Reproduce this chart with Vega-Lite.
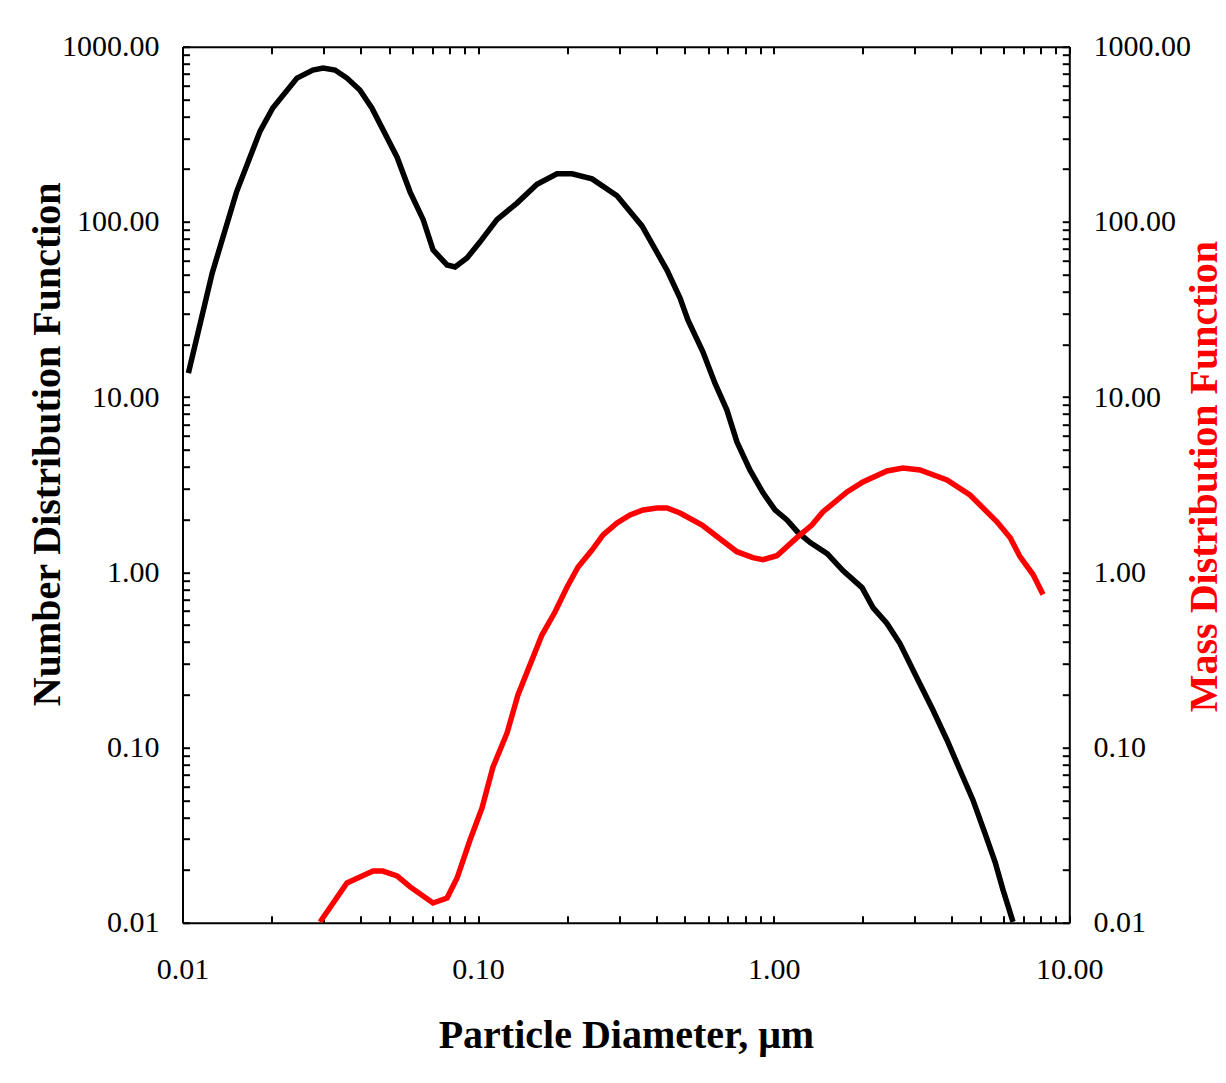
{
  "$schema": "https://vega.github.io/schema/vega-lite/v6.json",
  "autosize": {"type": "none"},
  "padding": {"left": 182.5, "top": 46.7, "right": 156.7, "bottom": 160.3},
  "width": 886.8,
  "height": 876,
  "background": "white",
  "config": {
    "view": {"stroke": null},
    "axis": {
      "grid": false,
      "domainColor": "black",
      "domainWidth": 2,
      "tickColor": "black",
      "tickWidth": 2,
      "tickSize": -7,
      "labelFont": "Liberation Serif",
      "labelFontSize": 30,
      "labelColor": "black",
      "labelFlush": false,
      "labelOverlap": false,
      "labelBound": false,
      "titleFont": "Liberation Serif",
      "titleFontSize": 40,
      "titleFontWeight": "bold",
      "titleColor": "black"
    }
  },
  "datasets": {
    "number": [
      {"d": 0.01047, "v": 13.7}, {"d": 0.0126, "v": 51}, {"d": 0.01525, "v": 149}, {"d": 0.0183, "v": 330},
      {"d": 0.0202, "v": 447}, {"d": 0.0244, "v": 662}, {"d": 0.0276, "v": 736}, {"d": 0.0299, "v": 756},
      {"d": 0.0328, "v": 736}, {"d": 0.036, "v": 662}, {"d": 0.0398, "v": 566}, {"d": 0.0437, "v": 447},
      {"d": 0.0532, "v": 234}, {"d": 0.0589, "v": 148}, {"d": 0.0652, "v": 103}, {"d": 0.0704, "v": 69.2},
      {"d": 0.0785, "v": 56.8}, {"d": 0.0836, "v": 55.3}, {"d": 0.0917, "v": 62.2}, {"d": 0.1014, "v": 76.7},
      {"d": 0.1158, "v": 103}, {"d": 0.1354, "v": 128}, {"d": 0.1582, "v": 164}, {"d": 0.1849, "v": 188},
      {"d": 0.2079, "v": 188}, {"d": 0.2429, "v": 176}, {"d": 0.2951, "v": 141}, {"d": 0.3584, "v": 94.9},
      {"d": 0.4354, "v": 53.1}, {"d": 0.4821, "v": 36.8}, {"d": 0.5129, "v": 27.5}, {"d": 0.5765, "v": 18.1},
      {"d": 0.6327, "v": 12.0}, {"d": 0.6945, "v": 8.43}, {"d": 0.7509, "v": 5.55}, {"d": 0.8308, "v": 3.84},
      {"d": 0.9203, "v": 2.84}, {"d": 1.01, "v": 2.27}, {"d": 1.109, "v": 1.99}, {"d": 1.204, "v": 1.7},
      {"d": 1.329, "v": 1.477}, {"d": 1.517, "v": 1.278}, {"d": 1.718, "v": 1.02}, {"d": 1.99, "v": 0.818},
      {"d": 2.167, "v": 0.629}, {"d": 2.416, "v": 0.51}, {"d": 2.674, "v": 0.392}, {"d": 3.076, "v": 0.243},
      {"d": 3.457, "v": 0.1637}, {"d": 3.856, "v": 0.1104}, {"d": 4.265, "v": 0.0744}, {"d": 4.72, "v": 0.0502},
      {"d": 5.18, "v": 0.0325}, {"d": 5.61, "v": 0.0222}, {"d": 5.97, "v": 0.01535}, {"d": 6.45, "v": 0.0101}
    ],
    "mass": [
      {"d": 0.0292, "v": 0.0101}, {"d": 0.036, "v": 0.01687}, {"d": 0.0441, "v": 0.01972}, {"d": 0.0476, "v": 0.01972},
      {"d": 0.0532, "v": 0.01849}, {"d": 0.0589, "v": 0.016}, {"d": 0.0704, "v": 0.01295}, {"d": 0.0785, "v": 0.01384},
      {"d": 0.0849, "v": 0.01799}, {"d": 0.0939, "v": 0.02965}, {"d": 0.1031, "v": 0.0452}, {"d": 0.1123, "v": 0.0774},
      {"d": 0.1253, "v": 0.1211}, {"d": 0.1364, "v": 0.1995}, {"d": 0.1644, "v": 0.4385}, {"d": 0.182, "v": 0.593},
      {"d": 0.2, "v": 0.824}, {"d": 0.2179, "v": 1.072}, {"d": 0.2428, "v": 1.34}, {"d": 0.2647, "v": 1.633},
      {"d": 0.2951, "v": 1.912}, {"d": 0.3266, "v": 2.124}, {"d": 0.3614, "v": 2.268}, {"d": 0.4029, "v": 2.33},
      {"d": 0.4354, "v": 2.33}, {"d": 0.4821, "v": 2.18}, {"d": 0.5723, "v": 1.862}, {"d": 0.633, "v": 1.633},
      {"d": 0.7507, "v": 1.311}, {"d": 0.85, "v": 1.212}, {"d": 0.9193, "v": 1.18}, {"d": 1.025, "v": 1.244},
      {"d": 1.198, "v": 1.576}, {"d": 1.346, "v": 1.862}, {"d": 1.466, "v": 2.21}, {"d": 1.77, "v": 2.873},
      {"d": 2.004, "v": 3.277}, {"d": 2.416, "v": 3.786}, {"d": 2.737, "v": 3.938}, {"d": 3.124, "v": 3.836},
      {"d": 3.856, "v": 3.364}, {"d": 4.613, "v": 2.762}, {"d": 5.69, "v": 1.941}, {"d": 6.31, "v": 1.576},
      {"d": 6.81, "v": 1.228}, {"d": 7.54, "v": 0.971}, {"d": 8.15, "v": 0.746}
    ]
  },
  "layer": [
    {
      "data": {"name": "number"},
      "mark": {"type": "line", "color": "black", "strokeWidth": 5.5, "clip": true},
      "encoding": {
        "x": {
          "field": "d", "type": "quantitative",
          "scale": {"type": "log", "domain": [0.01, 10], "nice": false},
          "axis": {
            "orient": "bottom",
            "values": [0.01,0.02,0.03,0.04,0.05,0.06,0.07,0.08,0.09,0.1,0.2,0.3,0.4,0.5,0.6,0.7,0.8,0.9,1,2,3,4,5,6,7,8,9,10],
            "labelExpr": "indexof([0.01,0.1,1,10], datum.value) >= 0 ? format(datum.value, '.2f') : ''",
            "labelAlign": "center",
            "labelBaseline": "alphabetic",
            "labelPadding": 62.3,
            "title": "Particle Diameter, μm",
            "titleX": 443.4,
            "titleY": 125,
            "titleAlign": "center",
            "titleBaseline": "alphabetic",
            "titleAngle": 0
          }
        },
        "y": {
          "field": "v", "type": "quantitative",
          "scale": {"type": "log", "domain": [0.01, 1000], "nice": false},
          "axis": {
            "orient": "left",
            "values": [0.01,0.02,0.03,0.04,0.05,0.06,0.07,0.08,0.09,0.1,0.2,0.3,0.4,0.5,0.6,0.7,0.8,0.9,1,2,3,4,5,6,7,8,9,10,20,30,40,50,60,70,80,90,100,200,300,400,500,600,700,800,900,1000],
            "labelExpr": "indexof([0.01,0.1,1,10,100,1000], datum.value) >= 0 ? format(datum.value, '.2f') : ''",
            "labelAlign": "right",
            "labelBaseline": "middle",
            "labelPadding": 30.5,
            "title": "Number Distribution Function",
            "titleAngle": 270,
            "titleX": -123.5,
            "titleY": 659,
            "titleAlign": "left",
            "titleBaseline": "alphabetic"
          }
        }
      }
    },
    {
      "data": {"name": "mass"},
      "mark": {"type": "line", "color": "#FF0000", "strokeWidth": 5.5, "clip": true},
      "encoding": {
        "x": {
          "field": "d", "type": "quantitative",
          "scale": {"type": "log", "domain": [0.01, 10], "nice": false},
          "axis": {
            "orient": "top",
            "values": [0.01,0.02,0.03,0.04,0.05,0.06,0.07,0.08,0.09,0.1,0.2,0.3,0.4,0.5,0.6,0.7,0.8,0.9,1,2,3,4,5,6,7,8,9,10],
            "labels": false,
            "title": null
          }
        },
        "y": {
          "field": "v", "type": "quantitative",
          "scale": {"type": "log", "domain": [0.01, 1000], "nice": false},
          "axis": {
            "orient": "right",
            "values": [0.01,0.02,0.03,0.04,0.05,0.06,0.07,0.08,0.09,0.1,0.2,0.3,0.4,0.5,0.6,0.7,0.8,0.9,1,2,3,4,5,6,7,8,9,10,20,30,40,50,60,70,80,90,100,200,300,400,500,600,700,800,900,1000],
            "labelExpr": "indexof([0.01,0.1,1,10,100,1000], datum.value) >= 0 ? format(datum.value, '.2f') : ''",
            "labelAlign": "left",
            "labelBaseline": "middle",
            "labelPadding": 30.7,
            "title": "Mass Distribution Function",
            "titleColor": "#FF0000",
            "titleAngle": 270,
            "titleX": 147,
            "titleY": 665,
            "titleAlign": "left",
            "titleBaseline": "alphabetic"
          }
        }
      }
    }
  ],
  "resolve": {"scale": {"x": "independent", "y": "independent"}, "axis": {"x": "independent", "y": "independent"}}
}
